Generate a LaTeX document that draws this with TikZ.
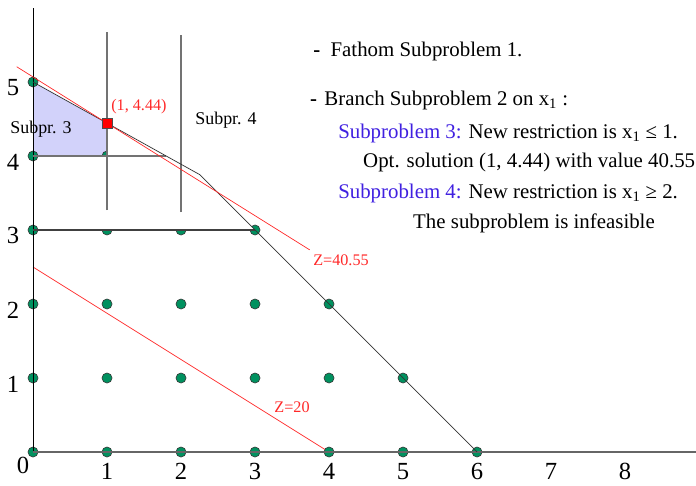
\documentclass[tikz,border=0pt]{standalone}
\usepackage{fontspec}
\setmainfont{Liberation Serif}

\definecolor{subblue}{RGB}{64,32,224}
\definecolor{ptgreen}{RGB}{0,145,95}
\definecolor{lav}{RGB}{210,210,250}
\definecolor{zred}{RGB}{255,40,40}

\begin{document}
\begin{tikzpicture}[x=2.22cm, y=2.22cm,
                    txt/.style={font=\fontsize{17.8}{21}\selectfont, anchor=base west, inner sep=0pt},
                    sublbl/.style={font=\fontsize{15.3}{18}\selectfont, inner sep=0pt},
                    zlbl/.style={font=\fontsize{13.8}{16}\selectfont, text=zred, inner sep=0pt},
                    ticklbl/.style={font=\fontsize{21}{25}\selectfont, inner sep=0pt},
                    dot/.style={fill=ptgreen, draw=black!80, line width=0.5pt},
                    branch/.style={black!55, line width=1.1pt}]
                    \useasboundingbox (-0.446,-0.446) rectangle (8.959,6.108);

                    % Subproblem 3 region
                    \fill[lav] (0,5) -- (1,40/9) -- (1,4) -- (0,4) -- cycle;

                    % Z=20
                    \draw[zred, line width=0.6pt] (0,2.5) -- (4,0);

                    % integer points
                    \foreach \py/\xmax in {0/6, 1/5, 2/4, 3/3, 4/1, 5/0} {
                        \foreach \px in {0,...,\xmax} {
                            \filldraw[dot] (\px,\py) circle (0.068);
                        }
                    }

                    % cut away parts
                    \fill[white] (0.075,3) -- (3,3) -- (2.25,3.75) -- (1.8,4) -- (1,40/9) -- (1,4) -- (0.075,4) -- cycle;

                    % axes
                    \draw[black, line width=0.8pt] (0,0) -- (0,6);
                    \draw[black!60, line width=1.1pt] (0,0) -- (8.96,0);

                    % branch lines
                    \draw[black!75, line width=2pt] (0,3) -- (3,3);
                    \draw[branch] (0,4) -- (1.8,4);
                    \draw[branch] (1,3.27) -- (1,5.68);
                    \draw[branch] (2,3.24) -- (2,5.64);

                    % constraints
                    \draw[black!80, line width=0.6pt] (6,0) -- (2.25,3.75) -- (0,5);

                    % Z=40.55
                    \draw[zred, line width=0.6pt] (-0.22,5.206) -- (3.74,2.731);

                    % optimum
                    \node[draw=black!70, fill=red, minimum size=0.3cm, inner sep=0pt] (opt) at (1,40/9) {};
                    \node[zlbl] (optlbl) at (1.432,4.662) {(1, 4.44)};
                    \node[zlbl] (z40) at (4.162,2.595) {Z=40.55};
                    \node[zlbl] (z20) at (3.5,0.608) {Z=20};
                    \node[sublbl] (sub3lbl) at (0.108,4.365) {Subpr. 3};
                    \node[sublbl] (sub4lbl) at (2.608,4.486) {Subpr. 4};

                    % tick labels
                    \node[ticklbl] (xt0) at (-0.135,-0.18) {0};
                    \foreach \x in {1,...,8} {
                        \node[ticklbl] (xt\x) at (\x,-0.26) {\x};
                    }
                    \foreach \y in {1,...,5} {
                        \node[ticklbl] (yt\y) at (-0.27,\y-0.08) {\y};
                    }

                    % text
                    \node[txt] (fathom) at (3.784,5.338) {\textbf{-}\hspace{0.5em}Fathom Subproblem 1.};
                    \node[txt] (branchtxt) at (3.743,4.689) {\textbf{-}\hspace{0.35em}Branch Subproblem 2 on x\textsubscript{1} :};
                    \node[txt] (sub3) at (4.122,4.243) {\textcolor{subblue}{Subproblem 3:} New restriction is x\textsubscript{1} ≤ 1.};
                    \node[txt] (opt3) at (4.459,3.838) {Opt. solution (1, 4.44) with value 40.55};
                    \node[txt] (sub4) at (4.122,3.432) {\textcolor{subblue}{Subproblem 4:} New restriction is x\textsubscript{1} ≥ 2.};
                    \node[txt] (infeas) at (5.135,3.027) {The subproblem is infeasible};
                \end{tikzpicture}
\end{document}
